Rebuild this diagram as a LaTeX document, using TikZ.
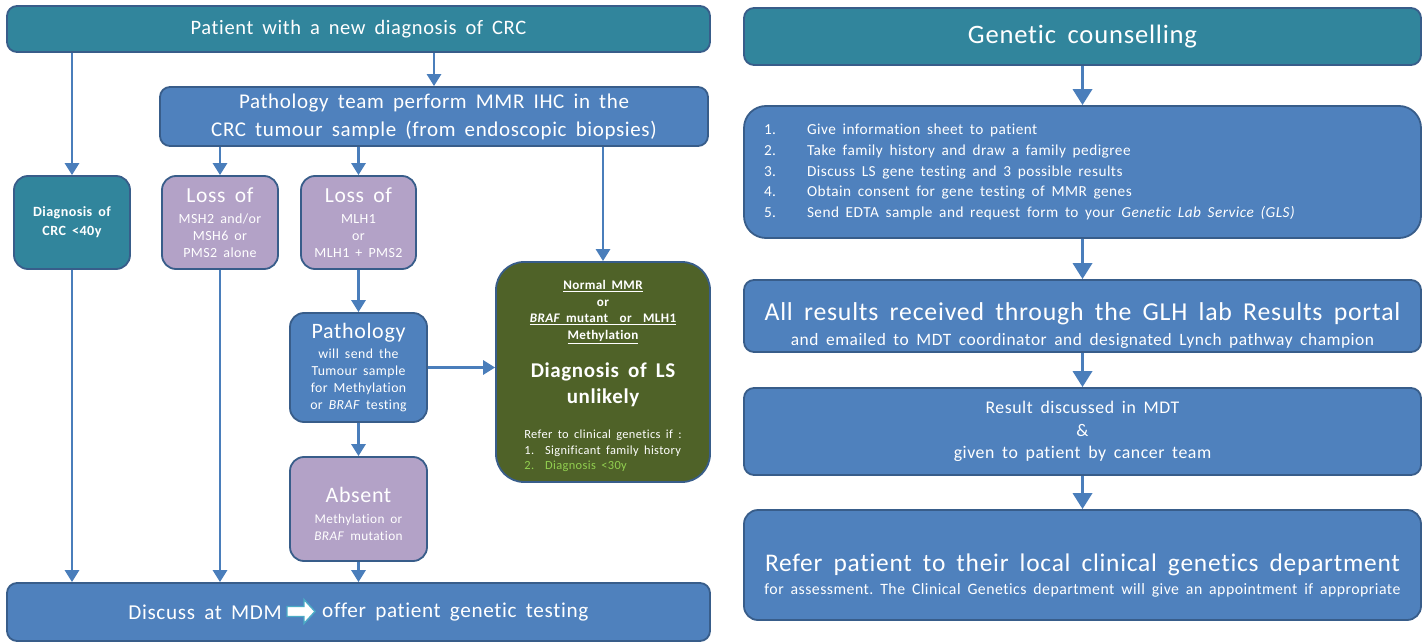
\documentclass[tikz,border=0pt]{standalone}
\usepackage{fontspec}
\setmainfont{Carlito}[Ligatures=NoCommon, LetterSpace=3, WordSpace=1.7]
\usetikzlibrary{arrows.meta}
\definecolor{teal1}{HTML}{31859C}
\definecolor{blue1}{HTML}{4F81BD}
\definecolor{edge1}{HTML}{385D8A}
\definecolor{purp1}{HTML}{B3A2C7}
\definecolor{olive1}{HTML}{4F6228}
\definecolor{arrow1}{HTML}{4A7EBB}
\definecolor{lgreen}{HTML}{92D050}
\definecolor{lteal}{HTML}{4BACC6}
\newcommand\myfs[2]{\fontsize{#1}{#2}\selectfont\spaceskip=\fontdimen2\font\relax\xspaceskip=\spaceskip}
\newcommand\topgap[1]{\par\vspace*{#1}}
\begin{document}
\begin{tikzpicture}[x=1pt,y=-1pt,
  box/.style={draw=edge1, line width=1.8pt, rounded corners=10pt, text=white, inner sep=0pt, align=center},
  tealbox/.style={box, fill=teal1},
  bluebox/.style={box, fill=blue1},
  purpbox/.style={box, fill=purp1, rounded corners=14pt},
  arr/.style={draw=arrow1, line width=2.8pt, -{Triangle[width=14pt,length=12pt]}},
  bigarr/.style={draw=arrow1, line width=3.5pt, -{Triangle[width=19pt,length=16pt]}}]
\fill[white] (0,0) rectangle (1426,644);
\useasboundingbox (0,0) rectangle (1426,644);

% ---------- left part ----------
\node[tealbox, minimum width=703, minimum height=46, font=\myfs{20.5}{26}] (top) at (358.5,29)
  {Patient with a new diagnosis of CRC};
\node[bluebox, minimum width=548, minimum height=59, font=\myfs{21}{28}] (path) at (434,116.5)
  {Pathology team perform MMR IHC in the\\CRC tumour sample (from endoscopic biopsies)};
\node[tealbox, rounded corners=14pt, minimum width=116, minimum height=93, text width=116] (diag) at (72,222.5)
  {\myfs{14.1}{19}\bfseries Diagnosis of\\CRC <40y\par};
\node[purpbox, minimum width=116, minimum height=93, text width=116] (loss1) at (220,222.5)
  {\myfs{21.5}{24}Loss of\par\vspace{4pt}\myfs{14}{17}MSH2 and/or\\MSH6 or\\PMS2 alone\par};
\node[purpbox, minimum width=115, minimum height=93, text width=115] (loss2) at (358.5,222.5)
  {\myfs{21.5}{24}Loss of\par\vspace{4pt}\myfs{14}{17}MLH1\\or\\MLH1 + PMS2\par};
\node[bluebox, rounded corners=14pt, minimum width=137, minimum height=109, text width=137] (patho2) at (358.5,367.5)
  {\myfs{22}{24}Pathology\par\vspace{3pt}\myfs{13.8}{17}will send the\\Tumour sample\\for Methylation\\or \textit{BRAF} testing\par};
\node[purpbox, minimum width=137, minimum height=104, text width=137] (absent) at (358.5,509)
  {\topgap{1pt}\myfs{22}{24}Absent\par\vspace{4pt}\myfs{13.3}{17}Methylation or\\\textit{BRAF} mutation\par};
\node[box, fill=olive1, rounded corners=28pt, minimum width=214, minimum height=220, text width=214] (green) at (603,372)
  {\topgap{3pt}\myfs{13.1}{16.7}\bfseries\underline{Normal MMR}\\or\\\underline{\textit{BRAF} mutant\ \ or\ \ MLH1}\\\underline{Methylation}\par
   \vspace{12pt}\myfs{21}{26}Diagnosis of LS\\unlikely\par
   \vspace{20pt}\mdseries\myfs{12.4}{15.3}%
   \begin{tabular}[t]{@{}l@{\hspace{11pt}}l@{}}
   \multicolumn{2}{@{}l@{}}{Refer to clinical genetics if :}\\
   1. & Significant family history\\
   \textcolor{lgreen}{2.} & \textcolor{lgreen}{Diagnosis <30y}
   \end{tabular}\par};
\node[bluebox, minimum width=703, minimum height=58] (bottom) at (358.5,612) {};
\node[text=white, inner sep=0pt, anchor=east, font=\myfs{21.2}{26}] (mdmL) at (282,612) {Discuss at MDM};
\node[text=white, inner sep=0pt, anchor=west, font=\myfs{21.2}{26}] (mdmR) at (322,612) {offer patient genetic testing};
\draw[draw=lteal, fill=white, line width=1.4pt, line join=miter]
  (287,606.5) -- (304,606.5) -- (304,599.5) -- (315,611.5) -- (304,623.5) -- (304,616.5) -- (287,616.5) -- cycle;

\draw[arr] (top.south -| path.north) -- (path.north);
\draw[arr] (top.south -| diag.north) -- (diag.north);
\draw[arr] (path.south -| loss1.north) -- (loss1.north);
\draw[arr] (path.south -| loss2.north) -- (loss2.north);
\draw[arr] (path.south -| green.north) -- (green.north);
\draw[arr] (loss2.south) -- (patho2.north);
\draw[arr] (patho2.east) -- (patho2.east -| green.west);
\draw[arr] (patho2.south) -- (absent.north);
\draw[arr] (absent.south) -- (absent.south |- bottom.north);
\draw[arr] (diag.south) -- (diag.south |- bottom.north);
\draw[arr] (loss1.south) -- (loss1.south |- bottom.north);

% ---------- right part ----------
\node[tealbox, minimum width=677, minimum height=57, font=\myfs{26.6}{32}] (gc) at (1082.5,36.5)
  {Genetic counselling};
\node[bluebox, rounded corners=22pt, minimum width=677, minimum height=132, text width=637, align=left,
      font=\myfs{15.3}{20.7}] (list) at (1082.5,172)
  {\myfs{15.3}{20.7}\makebox[43pt][l]{1.}Give information sheet to patient\\
   \makebox[43pt][l]{2.}Take family history and draw a family pedigree\\
   \makebox[43pt][l]{3.}Discuss LS gene testing and 3 possible results\\
   \makebox[43pt][l]{4.}Obtain consent for gene testing of MMR genes\\
   \makebox[43pt][l]{5.}Send EDTA sample and request form to your \textit{Genetic Lab Service (GLS)}\par};
\node[bluebox, minimum width=677, minimum height=72, text width=677] (res) at (1082.5,316)
  {\topgap{8pt}\myfs{25.8}{28}All results received through the GLH lab Results portal\par
   \myfs{17.4}{25}and emailed to MDT coordinator and designated Lynch pathway champion\par};
\node[bluebox, minimum width=677, minimum height=87, text width=677] (mdt) at (1082.5,431.5)
  {\myfs{17.8}{22.5}Result discussed in MDT\\\&\\given to patient by cancer team\par};
\node[bluebox, rounded corners=14pt, minimum width=677, minimum height=110, text width=677] (refer) at (1082.5,565)
  {\topgap{9pt}\myfs{25.4}{29}Refer patient to their local clinical genetics department\par
   \myfs{15.8}{23}for assessment. The Clinical Genetics department will give an appointment if appropriate\par};

\draw[bigarr] (gc.south) -- (list.north);
\draw[bigarr] (list.south) -- (res.north);
\draw[bigarr] (res.south) -- (mdt.north);
\draw[bigarr] (mdt.south) -- (refer.north);
\end{tikzpicture}
\end{document}
